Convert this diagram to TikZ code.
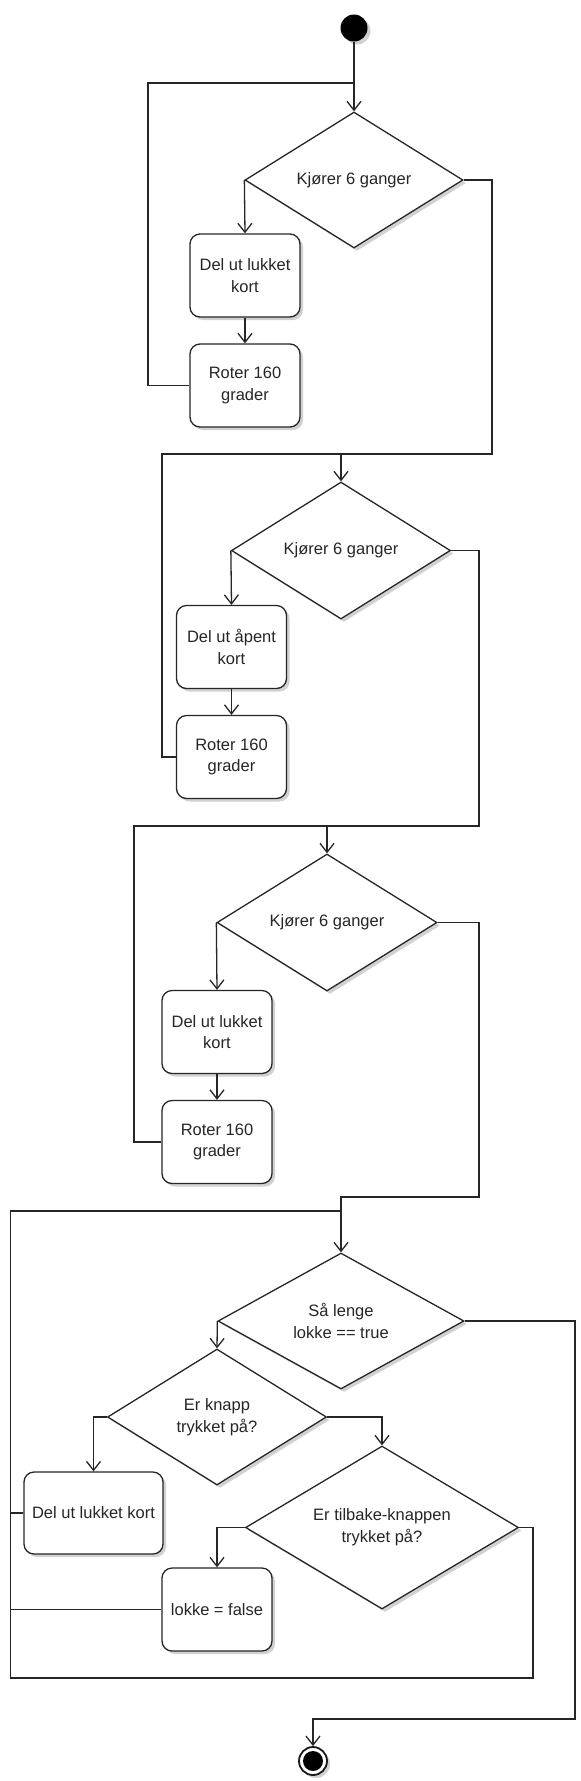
\documentclass[tikz,border=0pt]{standalone}
\usepackage{fontspec}
\setmainfont{Liberation Sans}
\usetikzlibrary{shapes.geometric,arrows.meta,shadows}
\begin{document}
\begin{tikzpicture}[x=1pt,y=-1pt,
  line width=1.3pt,
  every node/.style={font=\fontsize{16.5}{21.7}\selectfont, text=black!85},
  shad/.style={drop shadow={shadow xshift=3pt,shadow yshift=-3pt,fill=black,opacity=0.18}},
  box/.style={draw=black!85, fill=white, rounded corners=10pt, minimum width=110pt, minimum height=83pt, align=center, inner sep=2pt, shad},
  dec/.style={draw=black!85, fill=white, diamond, aspect=1.6, inner sep=0pt, align=center, shad},
  conn/.style={draw=black!85, line width=1.3pt},
  arr/.style={conn, -{Straight Barb[length=9pt,width=14pt]}},
]
\useasboundingbox (0,0) rectangle (581,1781);
% nodes
\node[circle, fill=black, minimum size=27pt, inner sep=0pt, shad] (start) at (354,28) {};
\node[dec, minimum width=218pt, minimum height=136pt] (d1) at (354,180) {Kjører 6 ganger};
\node[box] (b1) at (245,275.5) {Del ut lukket\\kort};
\node[box] (b2) at (245,385.5) {Roter 160\\grader};
\node[dec, minimum width=219pt, minimum height=137pt] (d2) at (341,550.5) {Kjører 6 ganger};
\node[box] (b3) at (231.5,647) {Del ut åpent\\kort};
\node[box] (b4) at (231.5,757) {Roter 160\\grader};
\node[dec, minimum width=220pt, minimum height=137pt] (d3) at (327,922.5) {Kjører 6 ganger};
\node[box] (b5) at (217,1032) {Del ut lukket\\kort};
\node[box] (b6) at (217,1142) {Roter 160\\grader};
\node[dec, minimum width=246pt, minimum height=136pt] (d4) at (341,1321) {Så lenge\\lokke == true};
\node[dec, minimum width=219pt, minimum height=136pt] (d5) at (217,1417) {Er knapp\\trykket på?};
\node[dec, minimum width=273pt, minimum height=163pt] (d6) at (382,1527.5) {Er tilbake-knappen\\trykket på?};
\node[box, minimum width=139pt, minimum height=82pt] (b7) at (93.5,1513) {Del ut lukket kort};
\node[box, minimum width=110pt] (b8) at (217,1609.5) {lokke = false};
\node[circle, draw=black!90, line width=1.8pt, fill=white, minimum size=28pt, inner sep=0pt, shad] (end) at (313,1761) {};
\node[circle, fill=black, minimum size=20pt, inner sep=0pt] (endin) at (end) {};
% coordinates
\coordinate (j0) at (354,83); \coordinate (l0) at (148,83);
\coordinate (j1) at (341,454); \coordinate (r1) at (492,454); \coordinate (l1) at (162,454);
\coordinate (j2) at (327,826); \coordinate (r2) at (479,826); \coordinate (l2) at (134,826);
\coordinate (r3a) at (479,1197); \coordinate (j3a) at (341,1197); \coordinate (j3) at (341,1211); \coordinate (l3) at (10.5,1211);
\coordinate (r4) at (533,1678); \coordinate (l4) at (10.5,1678);
\coordinate (r5) at (575,1719); \coordinate (e5) at (313,1719);
% connectors
\draw[arr] (start) -- (d1.north);
\draw[conn] (b2.west) -| (l0) -- (j0);
\draw[arr] (d1.west) -- (b1.north);
\draw[arr] (b1) -- (b2);
\draw[arr] (d1.east) -| (r1) -- (j1) -- (d2.north);
\draw[conn] (b4.west) -| (l1) -- (j1);
\draw[arr] (d2.west) -- (b3.north);
\draw[arr] (b3) -- (b4);
\draw[arr] (d2.east) -| (r2) -- (j2) -- (d3.north);
\draw[conn] (b6.west) -| (l2) -- (j2);
\draw[arr] (d3.west) -- (b5.north);
\draw[arr] (b5) -- (b6);
\draw[arr] (d3.east) -| (r3a) -- (j3a) -- (j3) -- (d4.north);
\draw[conn] (d6.east) -| (r4) -- (l4) -- (l3) -- (j3);
\draw[conn] (b7.west) -- (b7.west -| l3);
\draw[conn] (b8.west) -- (b8.west -| l3);
\draw[arr] (d4.west) -- (d5.north);
\draw[arr] (d5.east) -| (d6.north);
\draw[arr] (d5.west) -| (b7.north);
\draw[arr] (d6.west) -| (b8.north);
\draw[arr] (d4.east) -| (r5) -- (e5) -- (end.north);
\end{tikzpicture}
\end{document}
